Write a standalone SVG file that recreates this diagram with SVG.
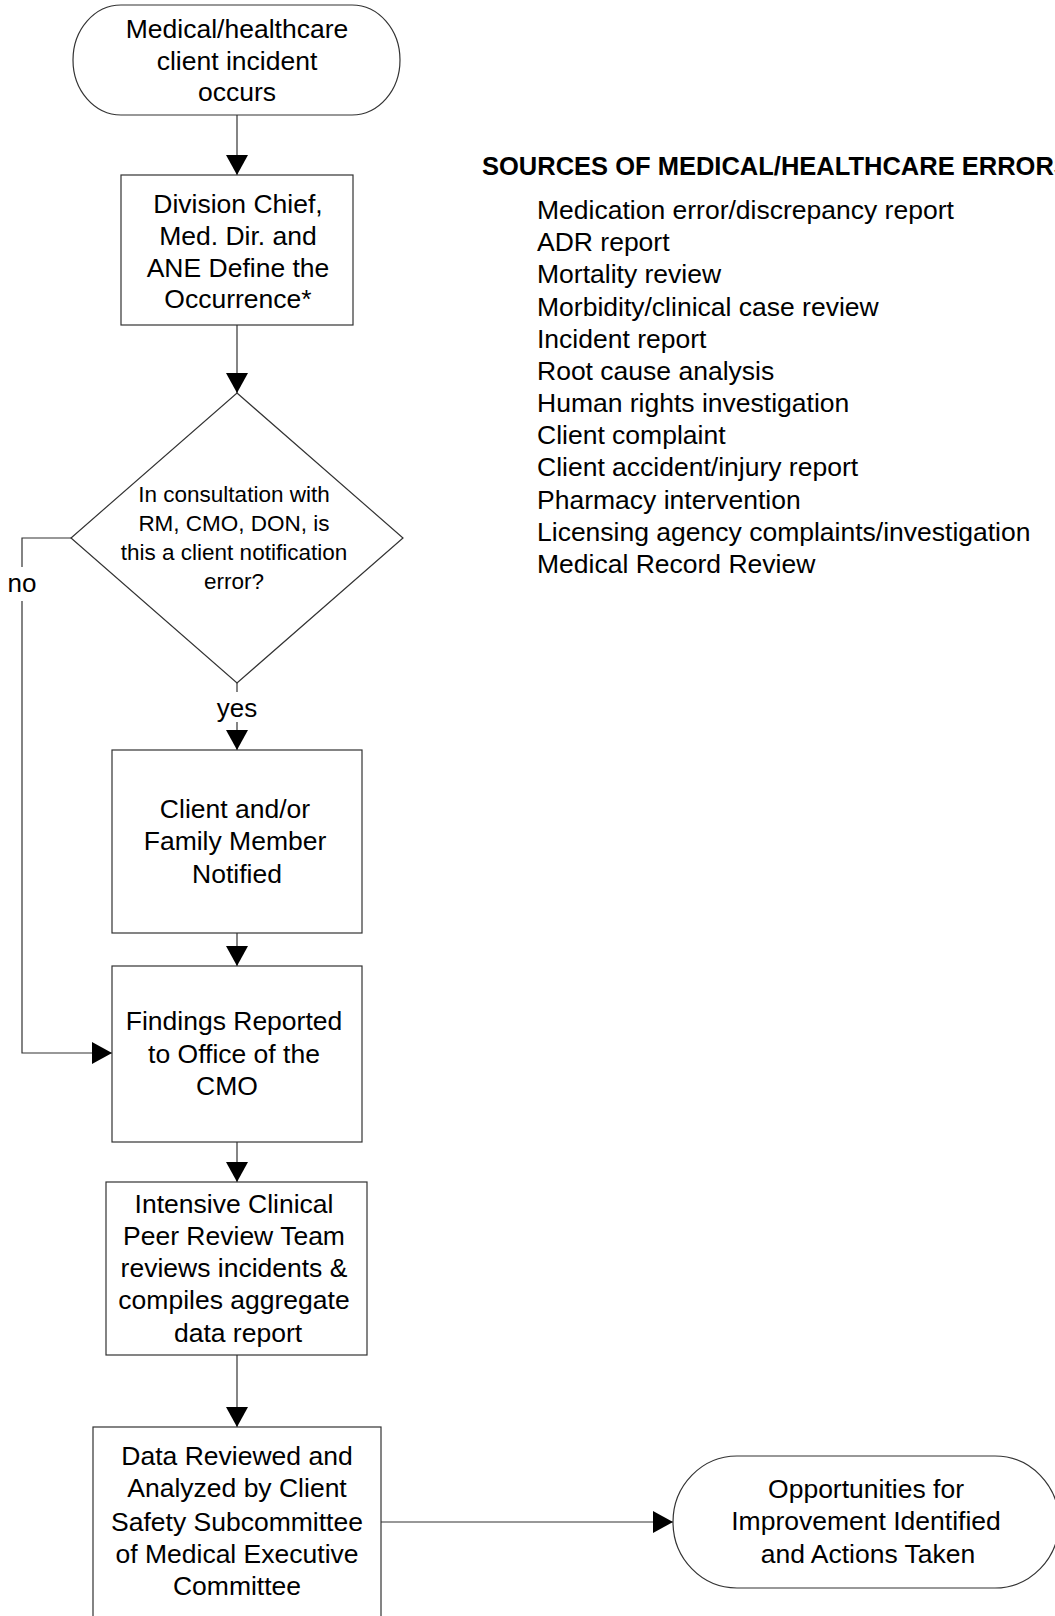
<svg xmlns="http://www.w3.org/2000/svg" width="1055" height="1616" viewBox="0 0 1055 1616">
<defs>
<style>
.shape{fill:#fff;stroke:#333;stroke-width:1.2}
.conn{fill:none;stroke:#333;stroke-width:1.2}
.t{font-family:"Liberation Sans",Arial,sans-serif;font-size:26.5px;fill:#000;text-anchor:middle}
.d{font-family:"Liberation Sans",Arial,sans-serif;font-size:22.5px;fill:#000;text-anchor:middle}
.l{font-family:"Liberation Sans",Arial,sans-serif;font-size:26.5px;fill:#000}
.h{font-family:"Liberation Sans",Arial,sans-serif;font-size:25.5px;font-weight:bold;fill:#000}
.lbl{font-family:"Liberation Sans",Arial,sans-serif;font-size:26px;fill:#000;text-anchor:middle}
</style>
<marker id="arr" viewBox="0 0 20 22" refX="20" refY="11" markerWidth="20" markerHeight="22" markerUnits="userSpaceOnUse" orient="auto">
<path d="M0,0 L20,11 L0,22 Z" fill="#000"/>
</marker>
</defs>
<rect width="1055" height="1616" fill="#fff"/>

<g id="connectors">
<line class="conn" x1="237" y1="115" x2="237" y2="175" marker-end="url(#arr)"/>
<line class="conn" x1="237" y1="325" x2="237" y2="393" marker-end="url(#arr)"/>
<line class="conn" x1="237" y1="683" x2="237" y2="750" marker-end="url(#arr)"/>
<rect x="212" y="692" width="50" height="30" fill="#fff"/>
<text class="lbl" x="237" y="717">yes</text>
<line class="conn" x1="237" y1="933" x2="237" y2="966" marker-end="url(#arr)"/>
<polyline class="conn" points="71,538 22,538 22,1053 112,1053" marker-end="url(#arr)"/>
<rect x="6" y="567" width="34" height="34" fill="#fff"/>
<text class="lbl" x="22" y="592">no</text>
<line class="conn" x1="237" y1="1142" x2="237" y2="1182" marker-end="url(#arr)"/>
<line class="conn" x1="237" y1="1355" x2="237" y2="1427" marker-end="url(#arr)"/>
<line class="conn" x1="381" y1="1522" x2="673" y2="1522" marker-end="url(#arr)"/>
</g>

<g id="start">
<rect class="shape" x="73" y="5" width="327" height="110" rx="48" ry="55"/>
<text class="t" x="237" y="38">Medical/healthcare</text>
<text class="t" x="237" y="70">client incident</text>
<text class="t" x="237" y="101">occurs</text>
</g>

<g id="define">
<rect class="shape" x="121" y="175" width="232" height="150"/>
<text class="t" x="238" y="213">Division Chief,</text>
<text class="t" x="238" y="245">Med. Dir. and</text>
<text class="t" x="238" y="277">ANE Define the</text>
<text class="t" x="238" y="308">Occurrence*</text>
</g>

<g id="decision">
<polygon class="shape" points="237,393 403,538 237,683 71,538"/>
<text class="d" x="234" y="502">In consultation with</text>
<text class="d" x="234" y="531">RM, CMO, DON, is</text>
<text class="d" x="234" y="560">this a client notification</text>
<text class="d" x="234" y="589">error?</text>
</g>

<g id="notified">
<rect class="shape" x="112" y="750" width="250" height="183"/>
<text class="t" x="235" y="818">Client and/or</text>
<text class="t" x="235" y="850">Family Member</text>
<text class="t" x="237" y="883">Notified</text>
</g>

<g id="findings">
<rect class="shape" x="112" y="966" width="250" height="176"/>
<text class="t" x="234" y="1030">Findings Reported</text>
<text class="t" x="234" y="1063">to Office of the</text>
<text class="t" x="227" y="1095">CMO</text>
</g>

<g id="peer-review">
<rect class="shape" x="106" y="1182" width="261" height="173"/>
<text class="t" x="234" y="1213">Intensive Clinical</text>
<text class="t" x="234" y="1245">Peer Review Team</text>
<text class="t" x="234" y="1277">reviews incidents &amp;</text>
<text class="t" x="234" y="1309">compiles aggregate</text>
<text class="t" x="238" y="1342">data report</text>
</g>

<g id="analysis">
<rect class="shape" x="93" y="1427" width="288" height="200"/>
<text class="t" x="237" y="1465">Data Reviewed and</text>
<text class="t" x="237" y="1497">Analyzed by Client</text>
<text class="t" x="237" y="1531">Safety Subcommittee</text>
<text class="t" x="237" y="1563">of Medical Executive</text>
<text class="t" x="237" y="1595">Committee</text>
</g>

<g id="end">
<rect class="shape" x="673" y="1456" width="386" height="132" rx="64" ry="66"/>
<text class="t" x="866" y="1498">Opportunities for</text>
<text class="t" x="866" y="1530">Improvement Identified</text>
<text class="t" x="868" y="1563">and Actions Taken</text>
</g>

<g id="sources">
<text class="h" x="482" y="175">SOURCES OF MEDICAL/HEALTHCARE ERRORS</text>
<text class="l" x="537" y="219">Medication error/discrepancy report</text>
<text class="l" x="537" y="251">ADR report</text>
<text class="l" x="537" y="283">Mortality review</text>
<text class="l" x="537" y="316">Morbidity/clinical case review</text>
<text class="l" x="537" y="348">Incident report</text>
<text class="l" x="537" y="380">Root cause analysis</text>
<text class="l" x="537" y="412">Human rights investigation</text>
<text class="l" x="537" y="444">Client complaint</text>
<text class="l" x="537" y="476">Client accident/injury report</text>
<text class="l" x="537" y="509">Pharmacy intervention</text>
<text class="l" x="537" y="541">Licensing agency complaints/investigation</text>
<text class="l" x="537" y="573">Medical Record Review</text>
</g>
</svg>
